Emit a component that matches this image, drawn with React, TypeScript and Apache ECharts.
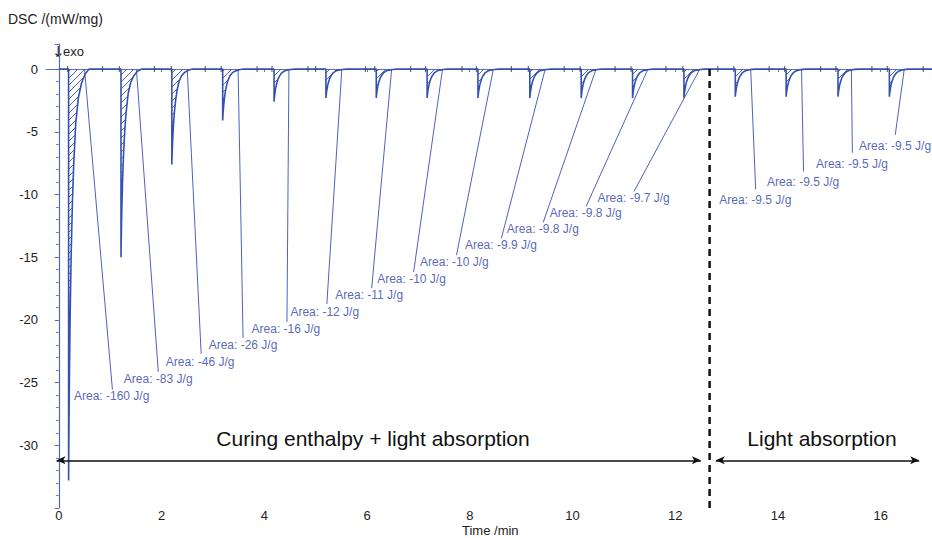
import React, { useEffect, useRef } from 'react';
import * as echarts from 'echarts';

// ---- data ----
const peakTimes = [0.19, 1.21, 2.2, 3.19, 4.19, 5.2, 6.18, 7.17, 8.16, 9.17, 10.17, 11.17, 12.17, 13.17, 14.16, 15.17, 16.17];
const peakDepths = [-32.8, -15.0, -7.6, -4.1, -2.6, -2.3, -2.3, -2.3, -2.3, -2.3, -2.3, -2.3, -2.3, -2.2, -2.2, -2.2, -2.2];
// normalised recovery shape of one light pulse
const profileOffsets = [0, 0.005, 0.015, 0.03, 0.05, 0.075, 0.1, 0.14, 0.19, 0.25, 0.32, 0.4];
const profileFractions = [1, 0.9, 0.76, 0.6, 0.45, 0.32, 0.23, 0.13, 0.07, 0.035, 0.012, 0];

const areaValues = ['-160', '-83', '-46', '-26', '-16', '-12', '-11', '-10', '-10', '-9.9', '-9.8', '-9.8', '-9.7', '-9.5', '-9.5', '-9.5', '-9.5'];
const labelX = [0.285, 1.256, 2.072, 2.907, 3.742, 4.499, 5.373, 6.188, 7.023, 7.897, 8.712, 9.547, 10.48, 12.85, 13.78, 14.73, 15.57];
const labelY = [-26.03, -24.68, -23.33, -21.98, -20.71, -19.37, -18.02, -16.75, -15.4, -14.05, -12.78, -11.51, -10.32, -10.4, -8.97, -7.54, -6.11];
const leaderStartX = [0.5, 1.51, 2.5, 3.49, 4.48, 5.51, 6.48, 7.47, 8.46, 9.47, 10.46, 11.47, 12.48, 13.47, 14.46, 15.43, 16.46];
const leaderEndX = [1.043, 1.936, 2.771, 3.587, 4.441, 5.218, 6.091, 6.907, 7.742, 8.616, 9.431, 10.266, 11.198, 13.567, 14.499, 15.45, 16.285];
const leaderEndY = [-25.56, -24.13, -22.7, -21.43, -20.16, -18.73, -17.46, -16.19, -14.84, -13.49, -12.22, -10.95, -9.76, -9.6, -8.17, -6.67, -5.24];

const integrationTicks = [0.17, 0.85, 1.18, 1.86, 2.19, 2.85, 3.16, 3.86, 4.15, 4.85, 5.0, 5.97, 6.15, 6.85, 7.14, 7.85, 8.13, 8.81, 9.14, 9.84, 10.15, 10.83, 11.14, 11.82, 12.15, 12.83, 13.14, 13.83, 14.13, 14.83, 15.13, 15.83, 16.13, 16.83];

const curingArrow = [-0.045, 12.5];
const lightArrow = [12.79, 16.75];
const arrowLevel = -31.2;
const dividerTime = 12.67;
const curingText = 'Curing enthalpy + light absorption';
const lightText = 'Light absorption';

const FONT = '"Liberation Sans", Arial, Helvetica, sans-serif';
const BLUE = '#3450b4';

export default function App() {
  const ref = useRef<HTMLDivElement>(null);
  useEffect(() => {
    document.body.style.margin = '0';
    if (!ref.current) return;
    const chart = echarts.init(ref.current, null, { renderer: 'svg' });

    const dsc: number[][] = [[0, 0]];
    peakTimes.forEach((t0, i) => {
      dsc.push([t0, 0]);
      profileOffsets.forEach((o, j) => {
        dsc.push([+(t0 + o).toFixed(4), +(peakDepths[i] * profileFractions[j]).toFixed(4)]);
      });
    });
    dsc.push([17, 0]);

    const hatchSvg =
      '<svg xmlns="http://www.w3.org/2000/svg" width="7" height="7">' +
      '<path d="M0 7 L7 0 M-1 1 L1 -1 M6 8 L8 6" stroke="#3a55b6" stroke-width="0.9" fill="none"/></svg>';
    const hatch: any = {
      image: 'data:image/svg+xml;charset=utf-8,' + encodeURIComponent(hatchSvg),
      repeat: 'repeat',
      imageWidth: 7,
      imageHeight: 7,
    };

    chart.setOption({
      animation: false,
      backgroundColor: '#ffffff',
      textStyle: { fontFamily: FONT },
      grid: { left: 46, top: 44, width: 888, height: 464, containLabel: false },
      xAxis: {
        type: 'value',
        min: -0.25,
        max: 17,
        splitNumber: 9,
        axisLine: { show: true, lineStyle: { color: '#6472b0', width: 1.2 } },
        axisTick: { show: true, length: 3, lineStyle: { color: '#6472b0' } },
        axisLabel: { showMinLabel: false, showMaxLabel: false, color: '#222', fontSize: 13, margin: 1, fontFamily: FONT },
        splitLine: { show: false },
      },
      yAxis: {
        type: 'value',
        min: -35,
        max: 2,
        interval: 5,
        axisLine: { show: true, lineStyle: { color: '#5468b8', width: 1.2 } },
        axisTick: { show: true, length: 4, lineStyle: { color: '#5468b8' } },
        minorTick: { show: true, splitNumber: 5, length: 3, lineStyle: { color: '#7080c0' } },
        axisLabel: { showMinLabel: false, showMaxLabel: false, color: '#222', fontSize: 13, margin: 8, fontFamily: FONT },
        splitLine: { show: false },
      },
      series: [
        {
          type: 'line',
          data: dsc,
          showSymbol: false,
          symbol: 'none',
          lineStyle: { color: BLUE, width: 1.6 },
          areaStyle: { color: hatch, opacity: 1 },
          silent: true,
          z: 3,
        },
        {
          type: 'lines',
          coordinateSystem: 'cartesian2d',
          data: leaderStartX.map((x, i) => ({ coords: [[x, 0], [leaderEndX[i], leaderEndY[i]]] })),
          lineStyle: { color: '#4a63c0', width: 1, opacity: 1 },
          silent: true,
          z: 2,
        },
        {
          type: 'scatter',
          data: integrationTicks.map((t) => [t, 0]),
          symbol: 'rect',
          symbolSize: [1.2, 6],
          itemStyle: { color: '#444' },
          silent: true,
          z: 4,
        },
        {
          type: 'scatter',
          data: labelX.map((x, i) => [x, labelY[i]]),
          symbolSize: 1,
          itemStyle: { color: 'rgba(0,0,0,0)' },
          label: {
            show: true,
            position: 'right',
            distance: 0,
            formatter: (p: any) => 'Area: ' + areaValues[p.dataIndex] + ' J/g',
            color: '#2b40a8',
            fontSize: 12,
            fontFamily: FONT,
          },
          silent: true,
          z: 5,
        },
        {
          type: 'line',
          data: [[dividerTime, 0], [dividerTime, -35]],
          showSymbol: false,
          symbol: 'none',
          lineStyle: { color: '#111', width: 2.5, type: [7, 5] },
          silent: true,
          z: 4,
          markLine: {
            silent: true,
            symbol: ['arrow', 'arrow'],
            symbolSize: [6, 9],
            label: { show: false },
            lineStyle: { color: '#111', width: 1.5, type: 'solid' },
            emphasis: { disabled: true },
            data: [
              [{ coord: [curingArrow[0], arrowLevel] }, { coord: [curingArrow[1], arrowLevel] }],
              [{ coord: [lightArrow[0], arrowLevel] }, { coord: [lightArrow[1], arrowLevel] }],
            ],
          },
        },
      ],
      graphic: [
        { type: 'text', left: 8, top: 12, style: { text: 'DSC /(mW/mg)', fontSize: 14, fill: '#222', fontFamily: FONT } },
        { type: 'text', left: 52, top: 44, style: { text: '↓', fontSize: 15, fill: '#222', fontFamily: '"DejaVu Sans", sans-serif' } },
        { type: 'text', left: 63, top: 45, style: { text: 'exo', fontSize: 13, fill: '#222', fontFamily: FONT } },
        { type: 'text', left: 462, top: 524, style: { text: 'Time /min', fontSize: 13, fill: '#222', fontFamily: FONT } },
        {
          type: 'text',
          x: 373,
          y: 438,
          style: { text: curingText, fontSize: 21, fill: '#111', fontFamily: FONT, textAlign: 'center', textVerticalAlign: 'middle' },
        },
        {
          type: 'text',
          x: 822,
          y: 438,
          style: { text: lightText, fontSize: 21, fill: '#111', fontFamily: FONT, textAlign: 'center', textVerticalAlign: 'middle' },
        },
      ],
    });
    return () => chart.dispose();
  }, []);
  return <div ref={ref} style={{ width: 932, height: 538 }} />;
}
